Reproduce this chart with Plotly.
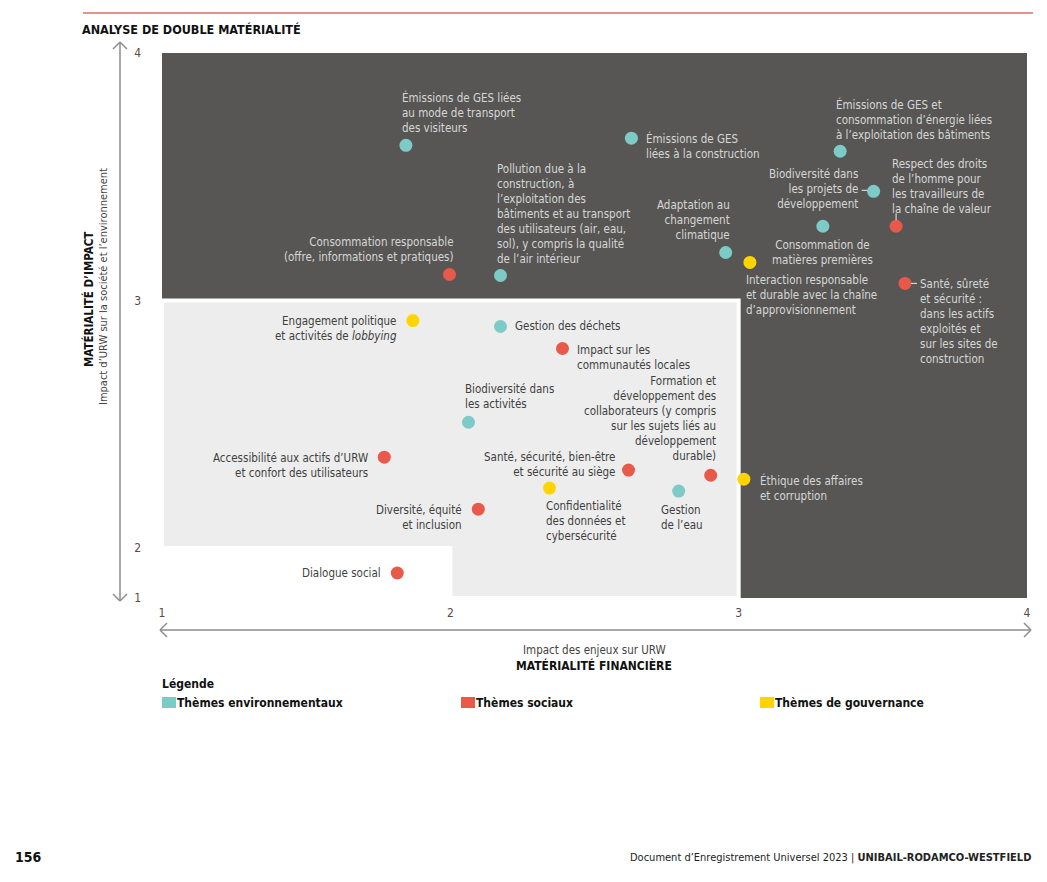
import plotly.graph_objects as go

# ---------------- data ----------------
env_labels = [
    "Émissions de GES liées<br>au mode de transport<br>des visiteurs",
    "Émissions de GES<br>liées à la construction",
    "Émissions de GES et<br>consommation d’énergie liées<br>à l’exploitation des bâtiments",
    "Biodiversité dans<br>les projets de<br>développement",
    "Consommation de<br>matières premières",
    "Adaptation au<br>changement<br>climatique",
    "Pollution due à la<br>construction, à<br>l’exploitation des<br>bâtiments et au transport<br>des utilisateurs (air, eau,<br>sol), y compris la qualité<br>de l’air intérieur",
    "Gestion des déchets",
    "Biodiversité dans<br>les activités",
    "Gestion<br>de l’eau",
]
env_x = [1.846, 2.628, 3.352, 3.468, 3.292, 2.955, 2.174, 2.174, 2.063, 2.792]
env_y = [3.627, 3.656, 3.603, 3.441, 3.300, 3.194, 3.101, 2.895, 2.508, 2.230]

soc_labels = [
    "Consommation responsable<br>(offre, informations et pratiques)",
    "Respect des droits<br>de l’homme pour<br>les travailleurs de<br>la chaîne de valeur",
    "Santé, sûreté<br>et sécurité :<br>dans les actifs<br>exploités et<br>sur les sites de<br>construction",
    "Impact sur les<br>communautés locales",
    "Accessibilité aux actifs d’URW<br>et confort des utilisateurs",
    "Santé, sécurité, bien-être<br>et sécurité au siège",
    "Formation et<br>développement des<br>collaborateurs (y compris<br>sur les sujets liés au<br>développement<br>durable)",
    "Diversité, équité<br>et inclusion",
    "Dialogue social",
]
soc_x = [1.997, 3.546, 3.577, 2.389, 1.771, 2.618, 2.903, 2.097, 1.816]
soc_y = [3.105, 3.300, 3.069, 2.806, 2.367, 2.315, 2.294, 2.157, 1.899]

gov_labels = [
    "Interaction responsable<br>et durable avec la chaîne<br>d’approvisionnement",
    "Engagement politique<br>et activités de <i>lobbying</i>",
    "Confidentialité<br>des données et<br>cybersécurité",
    "Éthique des affaires<br>et corruption",
]
gov_x = [3.039, 1.870, 2.344, 3.018]
gov_y = [3.154, 2.919, 2.242, 2.278]

x_ticks = [1, 2, 3, 4]
y_ticks = [1, 2, 3, 4]
series_names = ["Thèmes environnementaux", "Thèmes sociaux", "Thèmes de gouvernance"]

# ---------------- styles ----------------
FONT = "DejaVu Sans Condensed, Roboto, Liberation Sans, sans-serif"
C_ENV, C_SOC, C_GOV = "#7ccbc7", "#e9594a", "#ffd400"
DARK, LIGHT = "#575654", "#ededed"
TXT_ON_DARK, TXT_ON_LIGHT = "#d6d6d6", "#3f3f3f"

# page offset (browser body margin) and plot geometry in reference pixels
OFF = 8
W, H = 1047 - OFF, 882 - OFF
L, R, T, B = 162 - OFF, 1027 - OFF, 53 - OFF, 598 - OFF
Y_LOW = 2 - 50 / 247.5  # compressed lower segment: displayed "1"

def px(p):
    return (p - OFF - L) / (R - L)

def py(p):
    return (B - (p - OFF)) / (B - T)

env_off = [("left", "middle", -6, 33), ("left", "middle", 13, -8), ("left", "middle", -6, 32),
           ("right", "middle", -14, 2), ("center", "middle", 0, -26), ("right", "middle", 6, 32),
           ("left", "middle", -6, 62), ("left", "middle", 12, 0), ("left", "middle", -6, 26),
           ("left", "middle", -20, -26)]
soc_off = [("right", "middle", 7, 25), ("left", "middle", -6, 40), ("left", "top", 13, 8),
           ("left", "top", 13, 8), ("right", "top", -14, 8), ("right", "middle", -12, 6),
           ("right", "bottom", 7, 10), ("right", "top", -14, 8), ("right", "middle", -14, 0)]
gov_off = [("left", "middle", -6, -33), ("right", "top", -14, 9), ("left", "middle", -6, -33),
           ("left", "top", 14, 8)]

fig = go.Figure()
for name, xs, ys, col in [(series_names[0], env_x, env_y, C_ENV),
                          (series_names[1], soc_x, soc_y, C_SOC),
                          (series_names[2], gov_x, gov_y, C_GOV)]:
    fig.add_trace(go.Scatter(x=xs, y=ys, mode="markers", name=name, showlegend=False,
                             marker=dict(size=13, color=col, line=dict(width=0)),
                             hoverinfo="skip"))

shapes = []
# dark zone as one polygon
dpath = f"M 1 3 L 1 4 L 4 4 L 4 {Y_LOW} L 3 {Y_LOW} L 3 3 Z"
shapes.append(dict(type="path", xref="x", yref="y", path=dpath,
                   fillcolor=DARK, line=dict(width=0), layer="below"))
# light zone with white separating border
path = f"M 1 2 L 1 3 L 3 3 L 3 {Y_LOW} L 2 {Y_LOW} L 2 2 Z"
shapes.append(dict(type="path", xref="x", yref="y", path=path, fillcolor=LIGHT,
                   line=dict(width=4, color="white"), layer="below"))

# connectors
def conn(xa, ya, x0, y0, x1, y1, col):
    return dict(type="line", xref="x", yref="y", xsizemode="pixel", ysizemode="pixel",
                xanchor=xa, yanchor=ya, x0=x0, x1=x1, y0=y0, y1=y1,
                line=dict(color=col, width=1.2))
shapes.append(conn(env_x[3], env_y[3], -12, 1, -6, 1, TXT_ON_DARK))
shapes.append(conn(soc_x[1], soc_y[1], 0, 13, 0, 6, TXT_ON_DARK))
shapes.append(conn(soc_x[2], soc_y[2], 6, 0, 12, 0, TXT_ON_DARK))

# axis arrows
AX = "#8c8c8c"
def pline(x0, y0, x1, y1, w=1.5):
    return dict(type="line", xref="paper", yref="paper", x0=px(x0), y0=py(y0), x1=px(x1), y1=py(y1),
                line=dict(color=AX, width=w))
shapes += [pline(120, 42, 120, 601),
           pline(113, 49, 120, 42), pline(127, 49, 120, 42),
           pline(113, 594, 120, 601), pline(127, 594, 120, 601),
           pline(160, 630, 1031, 630),
           pline(167, 623, 160, 630), pline(167, 637, 160, 630),
           pline(1024, 623, 1031, 630), pline(1024, 637, 1031, 630)]
# top red rule
shapes.append(dict(type="line", xref="paper", yref="paper", x0=px(83), x1=px(1033), y0=py(13), y1=py(13),
                   line=dict(color="#e36a6a", width=1.5)))

# legend squares
leg_x = [162, 461, 760]
for lx, col in zip(leg_x, [C_ENV, C_SOC, C_GOV]):
    shapes.append(dict(type="rect", xref="paper", yref="paper", x0=px(lx), x1=px(lx + 14),
                       y0=py(708), y1=py(697), fillcolor=col, line=dict(width=0)))

ann = []
def add_labels(labels, xs, ys, offs):
    for lab, x, y, (xa, ya, dx, dy) in zip(labels, xs, ys, offs):
        dark = (y >= 3) or (x >= 3)
        ann.append(dict(x=x, y=y, xref="x", yref="y", text=lab, showarrow=False,
                        xanchor=xa, yanchor=ya, xshift=dx, yshift=dy, align=xa,
                        font=dict(family=FONT, size=11.5,
                                  color=TXT_ON_DARK if dark else TXT_ON_LIGHT)))
add_labels(env_labels, env_x, env_y, env_off)
add_labels(soc_labels, soc_x, soc_y, soc_off)
add_labels(gov_labels, gov_x, gov_y, gov_off)

def ptext(text, x, y, xa="left", ya="middle", size=12, color="#222", bold=False, angle=0):
    if bold:
        text = f"<b>{text}</b>"
    ann.append(dict(x=px(x), y=py(y), xref="paper", yref="paper", text=text, showarrow=False,
                    xanchor=xa, yanchor=ya, textangle=angle,
                    font=dict(family=FONT, size=size, color=color)))

ptext("ANALYSE DE DOUBLE MATÉRIALITÉ", 80, 30, size=12.5, color="#111", bold=True)
ptext("MATÉRIALITÉ D’IMPACT", 88, 300, xa="center", size=11.5, color="#111", bold=True, angle=-90)
ptext("Impact d’URW sur la société et l’environnement", 103, 287, xa="center", size=11,
      color="#444", angle=-90)
ptext("Impact des enjeux sur URW", 594, 650, xa="center", size=11.5, color="#444")
ptext("MATÉRIALITÉ FINANCIÈRE", 594, 665, xa="center", size=12, color="#111", bold=True)
ptext("Légende", 160, 684, size=12, color="#111", bold=True)
for lx, nm in zip(leg_x, series_names):
    ptext(nm, lx + 13, 703, size=12, color="#111", bold=True)
ptext("156", 13, 857, size=14, color="#111", bold=True)
ptext("Document d’Enregistrement Universel 2023 | <b>UNIBAIL-RODAMCO-WESTFIELD</b>", 1033, 857,
      xa="right", size=11, color="#222")

y_tickvals = [Y_LOW] + y_ticks[1:]
fig.update_layout(
    width=W, height=H,
    margin=dict(l=L, r=W - R, t=T, b=H - B),
    paper_bgcolor="white", plot_bgcolor="white",
    shapes=shapes, annotations=ann,
    font=dict(family=FONT, size=12, color="#444"),
    xaxis=dict(range=[1, 4], tickvals=x_ticks, ticktext=[str(v) for v in x_ticks],
               showgrid=False, zeroline=False, showline=False, ticks="",
               ticklabelstandoff=6, tickfont=dict(family=FONT, size=12, color="#5b4747"),
               fixedrange=True),
    yaxis=dict(range=[Y_LOW, 4], tickvals=y_tickvals, ticktext=[str(v) for v in y_ticks],
               showgrid=False, zeroline=False, showline=False, ticks="",
               ticklabelstandoff=20, tickfont=dict(family=FONT, size=12, color="#5b4747"),
               fixedrange=True),
    showlegend=False,
)

fig.write_html("out.html")
